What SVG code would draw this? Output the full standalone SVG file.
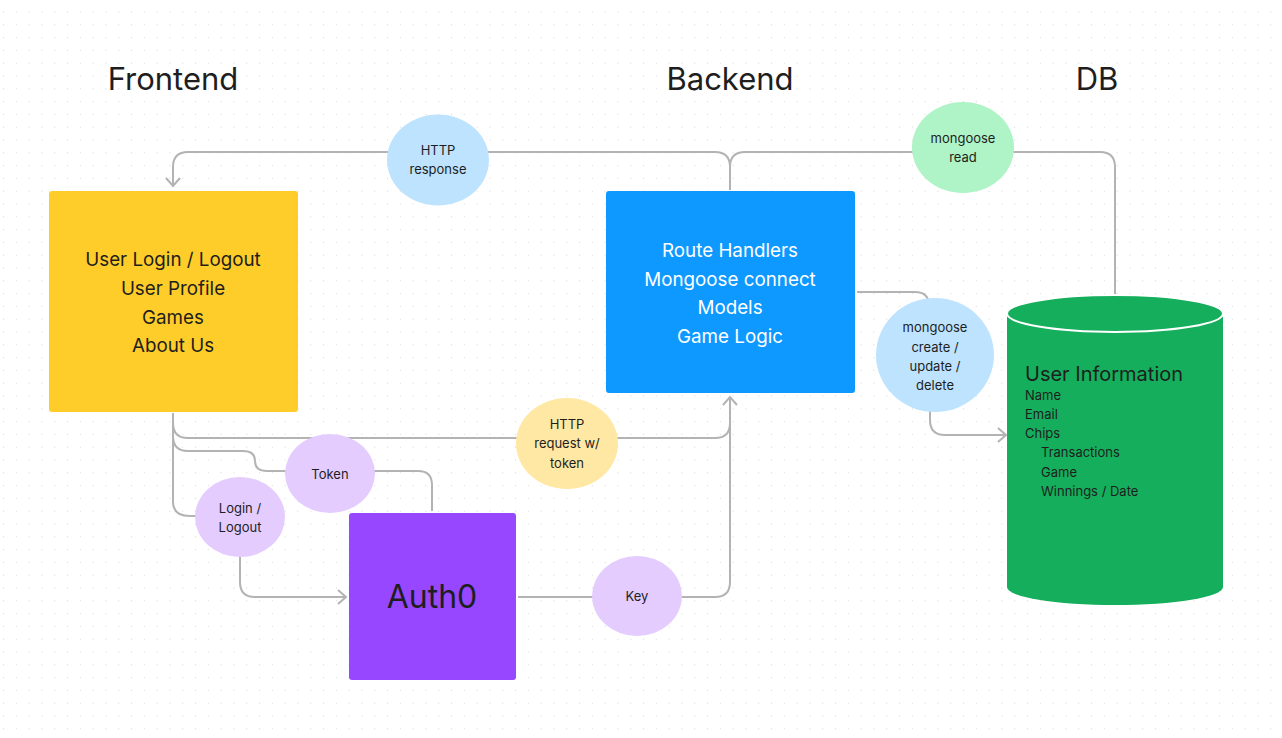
<svg xmlns="http://www.w3.org/2000/svg" width="1282" height="738" viewBox="0 0 1282 738">
<defs>
<pattern id="dots" x="3" y="11.5" width="12.8" height="12.8" patternUnits="userSpaceOnUse">
<rect x="0" y="0" width="1" height="1" fill="#d4d4d4"/>
</pattern>
<marker id="arr" viewBox="0 0 12 16" markerWidth="12" markerHeight="16" refX="10" refY="8" orient="auto" markerUnits="userSpaceOnUse">
<polyline points="2,1 10,8 2,15" fill="none" stroke="#b3b3b3" stroke-width="2"/>
</marker>
<style>
.t{font-family:Inter,"Noto Sans","Liberation Sans",sans-serif;fill:#1e1e1e;text-anchor:middle}
.title{font-size:31px}
.box{font-size:18.8px}
.lbl{font-size:13px}
.wt{fill:#ffffff}
.c{fill:none;stroke:#b3b3b3;stroke-width:2}
.db{font-family:Inter,"Noto Sans","Liberation Sans",sans-serif;fill:#1e1e1e;font-size:13px}
.dbh{font-size:20px}
</style>
</defs>
<rect width="1282" height="738" fill="#ffffff"/>
<rect width="1282" height="738" fill="url(#dots)"/>

<g id="titles">
<text class="t title" x="173" y="90">Frontend</text>
<text class="t title" x="730" y="90">Backend</text>
<text class="t title" x="1097" y="90">DB</text>
</g>

<g id="connectors">
<path class="c" d="M1115,295 V167 Q1115,152 1100,152 H745 Q730,152 730,167 V190"/>
<path class="c" d="M730,190 V167 Q730,152 715,152 H188 Q173,152 173,167 V186" marker-end="url(#arr)"/>
<path class="c" d="M173,413 V423 Q173,438 188,438 H715 Q730,438 730,423 V397" marker-end="url(#arr)"/>
<path class="c" d="M173,413 V436 Q173,451 188,451 H243 Q255,451 255,461 Q255,471 267,471 H290"/>
<path class="c" d="M370,471 H418 Q432,471 432,485 V511"/>
<path class="c" d="M173,413 V502 Q173,516 190,516 H200"/>
<path class="c" d="M240,555 V582 Q240,597 255,597 H346" marker-end="url(#arr)"/>
<path class="c" d="M518,597 H715 Q730,597 730,582 V397"/>
<path class="c" d="M857,292 H915 Q929,292 929,306"/>
<path class="c" d="M930,410 V420 Q930,435 945,435 H1006" marker-end="url(#arr)"/>
</g>

<g id="frontend">
<rect x="49" y="191" width="249" height="221" rx="3" fill="#ffcd29"/>
<text class="t box" x="173" y="266">User Login / Logout</text>
<text class="t box" x="173" y="295">User Profile</text>
<text class="t box" x="173" y="324">Games</text>
<text class="t box" x="173" y="352">About Us</text>
</g>

<g id="backend">
<rect x="606" y="191" width="249" height="202" rx="3" fill="#0d99ff"/>
<text class="t box wt" x="730" y="257">Route Handlers</text>
<text class="t box wt" x="730" y="286">Mongoose connect</text>
<text class="t box wt" x="730" y="314">Models</text>
<text class="t box wt" x="730" y="343">Game Logic</text>
</g>

<g id="auth0">
<rect x="349" y="513" width="167" height="167" rx="3" fill="#9747ff"/>
<text class="t" x="432" y="608" font-size="32">Auth0</text>
</g>

<g id="db">
<path d="M1007,313.5 V587 A108,18 0 0 0 1223,587 V313.5" fill="#14ae5c"/>
<ellipse cx="1115" cy="313.5" rx="108" ry="18.5" fill="#14ae5c" stroke="#ffffff" stroke-width="2"/>
<text class="db dbh" x="1025" y="381">User Information</text>
<text class="db" x="1025" y="400">Name</text>
<text class="db" x="1025" y="419">Email</text>
<text class="db" x="1025" y="438">Chips</text>
<text class="db" x="1041" y="457">Transactions</text>
<text class="db" x="1041" y="477">Game</text>
<text class="db" x="1041" y="496">Winnings / Date</text>
</g>

<g id="http-response">
<ellipse cx="438" cy="160" rx="51" ry="45.5" fill="#bde3ff"/>
<text class="t lbl" x="438" y="155">HTTP</text>
<text class="t lbl" x="438" y="174">response</text>
</g>

<g id="mongoose-read">
<ellipse cx="963" cy="147.5" rx="51" ry="45.5" fill="#aff4c6"/>
<text class="t lbl" x="963" y="143">mongoose</text>
<text class="t lbl" x="963" y="162">read</text>
</g>

<g id="mongoose-cud">
<ellipse cx="935" cy="355" rx="59" ry="57" fill="#bde3ff"/>
<text class="t lbl" x="935" y="332">mongoose</text>
<text class="t lbl" x="935" y="352">create /</text>
<text class="t lbl" x="935" y="371">update /</text>
<text class="t lbl" x="935" y="390">delete</text>
</g>

<g id="http-request">
<ellipse cx="567" cy="443.5" rx="51" ry="45.5" fill="#ffe8a3"/>
<text class="t lbl" x="567" y="429">HTTP</text>
<text class="t lbl" x="567" y="448">request w/</text>
<text class="t lbl" x="567" y="468">token</text>
</g>

<g id="token">
<ellipse cx="330" cy="473.5" rx="45" ry="39.5" fill="#e4ccff"/>
<text class="t lbl" x="330" y="479">Token</text>
</g>

<g id="login">
<ellipse cx="240" cy="517" rx="45" ry="40" fill="#e4ccff"/>
<text class="t lbl" x="240" y="513">Login /</text>
<text class="t lbl" x="240" y="532">Logout</text>
</g>

<g id="key">
<ellipse cx="637" cy="596" rx="45" ry="40" fill="#e4ccff"/>
<text class="t lbl" x="637" y="601">Key</text>
</g>
</svg>
